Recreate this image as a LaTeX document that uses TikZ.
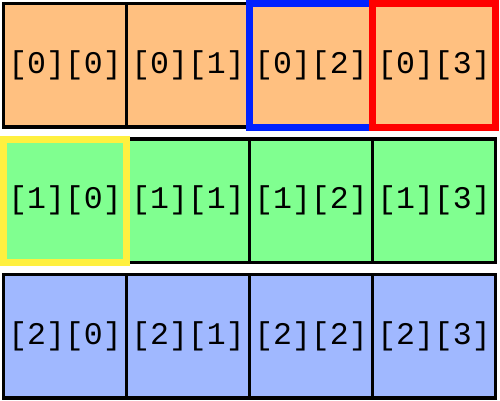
\documentclass[tikz,border=0pt]{standalone}
\usepackage{fontspec}
\setmonofont{Liberation Mono}
\usetikzlibrary{positioning}
\usetikzlibrary{calc}

\definecolor{rowA}{HTML}{FFC080}
\definecolor{rowB}{HTML}{80FF90}
\definecolor{rowC}{HTML}{A0B8FF}
\definecolor{hlBlue}{HTML}{0022FF}
\definecolor{hlRed}{HTML}{FF0000}
\definecolor{hlYellow}{HTML}{FFF040}

\tikzset{
  cell/.style={draw=black, line width=3.5pt, inner sep=0pt, outer sep=0pt,
    minimum width=123pt, minimum height=123.5pt,
    font=\ttfamily\fontsize{31.5}{31.5}\selectfont},
  hl/.style={line width=7pt}
}

\begin{document}
\begin{tikzpicture}[x=1pt, y=-1pt]

\pgfmathsetmacro{\CW}{123.0}
\pgfmathsetmacro{\RP}{135.5}
\pgfmathsetmacro{\XO}{65.0}
\pgfmathsetmacro{\YO}{65.25}

\useasboundingbox (0, 0) rectangle (500, 400);

% row 0
\node [cell, fill=rowA] (c00) at (\XO, \YO) {[0][0]};
\node [cell, fill=rowA] (c01) at ($(c00) + (\CW, 0)$) {[0][1]};
\node [cell, fill=rowA] (c02) at ($(c01) + (\CW, 0)$) {[0][2]};
\node [cell, fill=rowA] (c03) at ($(c02) + (\CW, 0)$) {[0][3]};

% row 1
\node [cell, fill=rowB] (c10) at ($(c00) + (0, \RP)$) {[1][0]};
\node [cell, fill=rowB] (c11) at ($(c10) + (\CW, 0)$) {[1][1]};
\node [cell, fill=rowB] (c12) at ($(c11) + (\CW, 0)$) {[1][2]};
\node [cell, fill=rowB] (c13) at ($(c12) + (\CW, 0)$) {[1][3]};

% row 2
\node [cell, fill=rowC] (c20) at ($(c10) + (0, \RP)$) {[2][0]};
\node [cell, fill=rowC] (c21) at ($(c20) + (\CW, 0)$) {[2][1]};
\node [cell, fill=rowC] (c22) at ($(c21) + (\CW, 0)$) {[2][2]};
\node [cell, fill=rowC] (c23) at ($(c22) + (\CW, 0)$) {[2][3]};

% highlighted cells
\draw [hl, draw=hlBlue] (c02.north west) rectangle (c02.south east);
\draw [hl, draw=hlRed] (c03.north west) rectangle (c03.south east);
\draw [hl, draw=hlYellow] (c10.north west) rectangle (c10.south east);

\end{tikzpicture}
\end{document}
